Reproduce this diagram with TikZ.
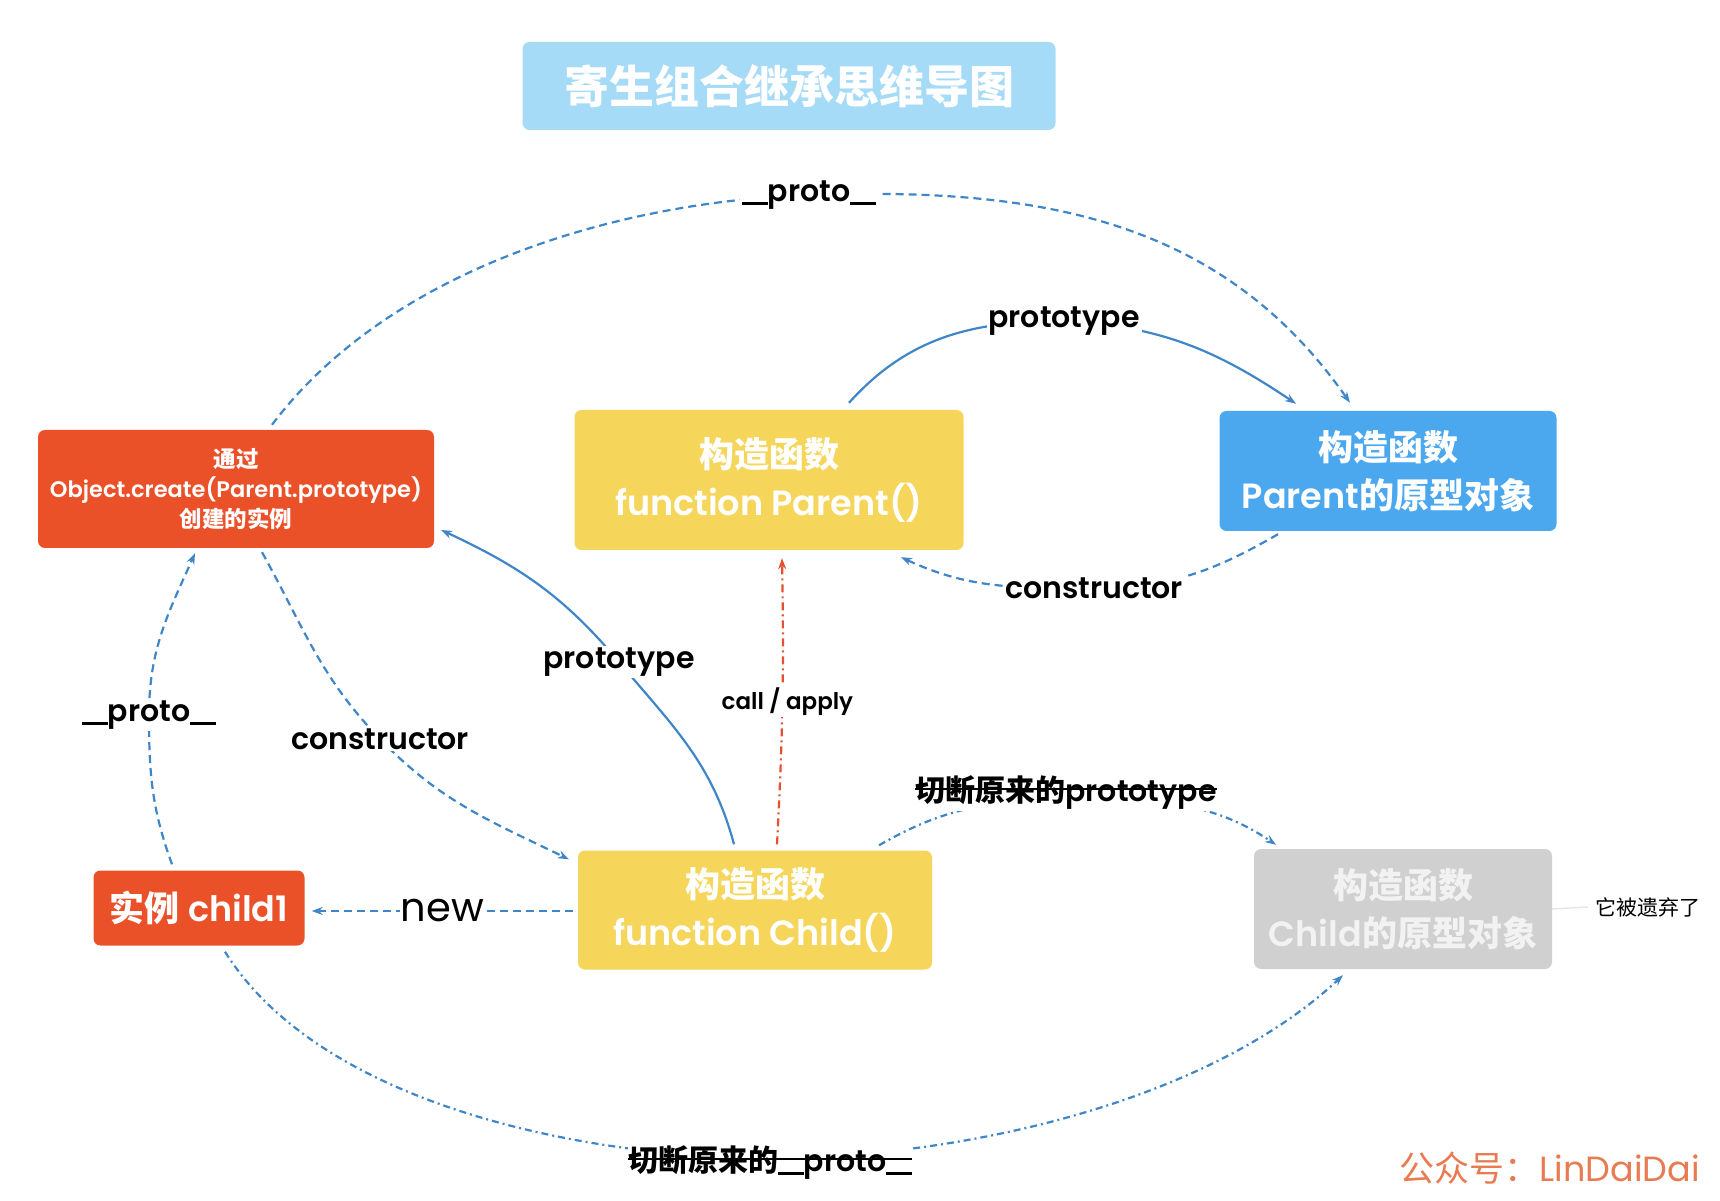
\documentclass[tikz,border=0pt]{standalone}
\usepackage{fontspec}
\setmainfont{Poppins}[BoldFont={Poppins SemiBold}]
\newfontfamily\cjk{Noto Sans CJK SC}
\usetikzlibrary{arrows.meta}

\definecolor{titleblue}{HTML}{A6DBF7}
\definecolor{boxred}{HTML}{EB5129}
\definecolor{boxyellow}{HTML}{F6D65A}
\definecolor{boxblue}{HTML}{4BA8EE}
\definecolor{boxgray}{HTML}{D0D0D0}
\definecolor{graytext}{HTML}{F2F2F2}
\definecolor{linkblue}{HTML}{3F86C8}
\definecolor{callred}{HTML}{E5502F}
\definecolor{notegray}{HTML}{E3E8EE}
\definecolor{markorange}{HTML}{E87B51}

% double underscore drawn as one bar
\newcommand\dunder{\rule[-0.12em]{0.85em}{0.1em}}

\begin{document}
\begin{tikzpicture}[x=1pt,y=1pt,
    box/.style={rounded corners=7pt, text=white, align=center, inner sep=0pt,
      font=\bfseries\fontsize{35}{48}\selectfont},
    lbl/.style={fill=white, inner sep=2pt, text=black,
      font=\bfseries\fontsize{30}{30}\selectfont},
    link/.style={draw=linkblue, line width=2.2pt, -{Stealth[length=11pt,width=8pt]}},
    dashlink/.style={link, dash pattern=on 8pt off 5pt},
    cutlink/.style={link, dash pattern=on 7pt off 4pt on 2pt off 4pt},
    calllink/.style={link, draw=callred, dash pattern=on 8pt off 4pt on 2pt off 4pt},
    strike/.style={draw=black, line width=2pt}]

  \useasboundingbox (0,0) rectangle (1720,1200);

  % title
  \node[box, fill=titleblue, minimum width=533, minimum height=88,
    font=\cjk\bfseries\fontsize{45}{45}\selectfont] (title) at (789,1114) {寄生组合继承思维导图};

  % boxes
  \node[box, fill=boxred, minimum width=396, minimum height=118,
    font=\bfseries\fontsize{22.5}{30}\selectfont] (create) at (236,711)
    {{\cjk 通过}\\Object.create(Parent.prototype)\\{\cjk 创建的实例}};
  \node[box, fill=boxyellow, minimum width=389, minimum height=140] (parent) at (769,720)
    {{\cjk 构造函数}\\function Parent()};
  \node[box, fill=boxblue, minimum width=337, minimum height=120] (proto) at (1388,729)
    {{\cjk 构造函数}\\Parent{\cjk 的原型对象}};
  \node[box, fill=boxred, minimum width=211, minimum height=75] (inst) at (199,292)
    {{\cjk 实例} child1};
  \node[box, fill=boxyellow, minimum width=354, minimum height=119] (child) at (755,290)
    {{\cjk 构造函数}\\function Child()};
  \node[box, fill=boxgray, text=graytext, minimum width=298, minimum height=120] (oldproto) at (1403,291)
    {{\cjk 构造函数}\\Child{\cjk 的原型对象}};

  % side note and mark
  \node[anchor=west, inner sep=0pt, font=\cjk\fontsize{21}{21}\selectfont] (note) at (1595,293) {它被遗弃了};
  \draw[draw=notegray, line width=1.5pt] (oldproto.east) -- ([xshift=-7]note.west);
  \node[anchor=east, inner sep=0pt, text=markorange, font=\fontsize{35}{35}\selectfont] (mark) at (1700,32)
    {{\cjk 公众号：}LinDaiDai};

  % points on the curves
  \coordinate (m1) at (809,1005);
  \coordinate (m2) at (1064,879);
  \coordinate (m3) at (1094,612);
  \coordinate (m4) at (619,538);
  \coordinate (m6) at (380,461);
  \coordinate (m7) at (149,485);
  \coordinate (m9) at (1068,400);
  \coordinate (m10) at (770,42);

  % __proto__ over the top
  \draw[dashlink] ([xshift=36,yshift=5]create.north) to[out=53,in=182,looseness=0.85] (m1)
    node[lbl] {\dunder proto\dunder}
    to[out=2,in=125] ([xshift=-38,yshift=8]proto.north);
  % prototype
  \draw[link] ([xshift=80,yshift=7]parent.north) to[out=48,in=180] (m2)
    node[lbl] {prototype}
    to[out=-3,in=146] ([xshift=-92,yshift=7]proto.north);
  % constructor
  \draw[dashlink] ([xshift=-110,yshift=-3]proto.south) to[out=-150,in=0] (m3)
    node[lbl] {constructor}
    to[out=180,in=-25] ([xshift=132,yshift=-7]parent.south);
  % Child.prototype
  \draw[link] ([xshift=-21,yshift=6]child.north) to[out=105,in=-50] (m4)
    node[lbl] {prototype}
    to[out=130,in=-25] ([xshift=7,yshift=-41]create.east);
  % call / apply
  \draw[calllink] ([xshift=22,yshift=6]child.north) to[bend right=2]
    node[lbl, pos=0.5, xshift=5, font=\bfseries\fontsize{23}{23}\selectfont] {call / apply}
    ([xshift=13,yshift=-8]parent.south);
  % constructor of the instance
  \draw[dashlink] ([xshift=26,yshift=-4]create.south) to[out=-61,in=134] (m6)
    node[lbl] {constructor}
    to[out=-46,in=154] ([xshift=-9,yshift=-9]child.north west);
  % __proto__ of child1
  \draw[dashlink] ([xshift=-27,yshift=6]inst.north) to[out=110,in=-90] (m7)
    node[lbl] {\dunder proto\dunder}
    to[out=90,in=-114] ([xshift=-41,yshift=-5]create.south);
  % new
  \draw[dashlink] ([xshift=-5,yshift=-1]child.west) --
    node[lbl, inner xsep=1pt, font=\fontsize{40}{40}\selectfont] {new}
    ([xshift=7,yshift=-3]inst.east);
  % cut links
  \draw[cutlink] ([xshift=124,yshift=5]child.north) to[out=30,in=180] (m9)
    to[out=0,in=146] ([xshift=-127,yshift=4]oldproto.north);
  \draw[cutlink] ([xshift=26,yshift=-6]inst.south) to[out=-58,in=180,looseness=0.8] (m10)
    to[out=0,in=-137,looseness=0.8] ([xshift=-60,yshift=-6]oldproto.south);

  \node[lbl, inner xsep=0pt, anchor=base] (cut1) at (1066,399) {{\cjk 切断原来的}prototype};
  \draw[strike] ([yshift=12]cut1.base west) -- ([yshift=12]cut1.base east);
  \node[lbl, inner xsep=0pt, anchor=base] (cut2) at (770,29) {{\cjk 切断原来的}\dunder proto\dunder};
  \draw[strike] ([yshift=12]cut2.base west) -- ([yshift=12]cut2.base east);
\end{tikzpicture}
\end{document}
